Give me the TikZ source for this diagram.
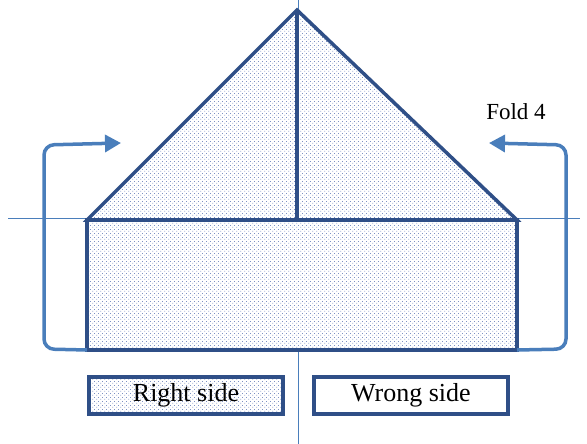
\documentclass[tikz,border=0pt]{standalone}
\usepackage{fontspec}
\setmainfont{Liberation Serif}
\usetikzlibrary{patterns.meta,arrows.meta}
\definecolor{edgeblue}{RGB}{47,79,135}
\definecolor{arrowblue}{RGB}{74,126,187}
\definecolor{dotblue}{RGB}{125,145,195}
\tikzdeclarepattern{
  name=staggerdots,
  type=uncolored,
  bounding box={(0pt,0pt) and (4pt,4pt)},
  tile size={(4pt,4pt)},
  code={
    \fill (0.5pt,0.5pt) rectangle (1.5pt,1.5pt);
    \fill (2.5pt,2.5pt) rectangle (3.5pt,3.5pt);
  }
}
\tikzset{
  thinline/.style={draw=arrowblue, line width=1pt},
  thickedge/.style={draw=edgeblue, line width=3.5pt, line join=miter},
  dotted fill/.style={pattern=staggerdots, pattern color=dotblue},
  foldarrow/.style={draw=arrowblue, line width=3.5pt, rounded corners=10pt,
    -{Triangle[width=17pt,length=16pt]}},
  legendbox/.style={draw=edgeblue, line width=3.5pt, minimum width=194pt,
    minimum height=37pt, inner sep=0pt, font=\fontsize{26}{28}\selectfont},
  foldlabel/.style={font=\fontsize{23}{26}\selectfont}
}
\begin{document}
\begin{tikzpicture}[x=1pt,y=-1pt]
\useasboundingbox (0,0) rectangle (587,444);
% reference lines
\coordinate (hl) at (8,218);
\coordinate (hr) at (580,218);
\coordinate (vt) at (298,0);
\coordinate (vb) at (298,444);
\draw[thinline] (hl) -- (hr);
\draw[thinline] (vt) -- (vb);
% shape corners
\coordinate (apex) at (297,10);
\coordinate (tl) at (87,220);
\coordinate (tr) at (517,220);
\coordinate (bl) at (87,350);
\coordinate (br) at (517,350);
\coordinate (mid) at (297,220);
% fills
\fill[white] (apex) -- (tr) -- (br) -- (bl) -- (tl) -- cycle;
\fill[dotted fill] (apex) -- (tr) -- (br) -- (bl) -- (tl) -- cycle;
% edges
\draw[thickedge] (apex) -- (tr) -- (tl) -- cycle;
\draw[thickedge] (tl) rectangle (br);
\draw[thickedge] (apex) -- (mid);
% fold arrows
\coordinate (ltip) at (121,143);
\coordinate (rtip) at (489,143);
\draw[foldarrow] (bl) -- (44,349) -- (44,145) -- (ltip);
\draw[foldarrow] (br) -- (566,349) -- (566,145) -- (rtip);
\node[foldlabel] (fold) at (516,112) {Fold 4};
% legend
\node[legendbox, fill=white] (rs0) at (186,395.5) {\phantom{Right side}};
\node[legendbox, dotted fill] (rs) at (186,395.5) {Right side};
\node[legendbox, fill=white] (ws) at (411,395.5) {Wrong side};
\end{tikzpicture}
\end{document}
